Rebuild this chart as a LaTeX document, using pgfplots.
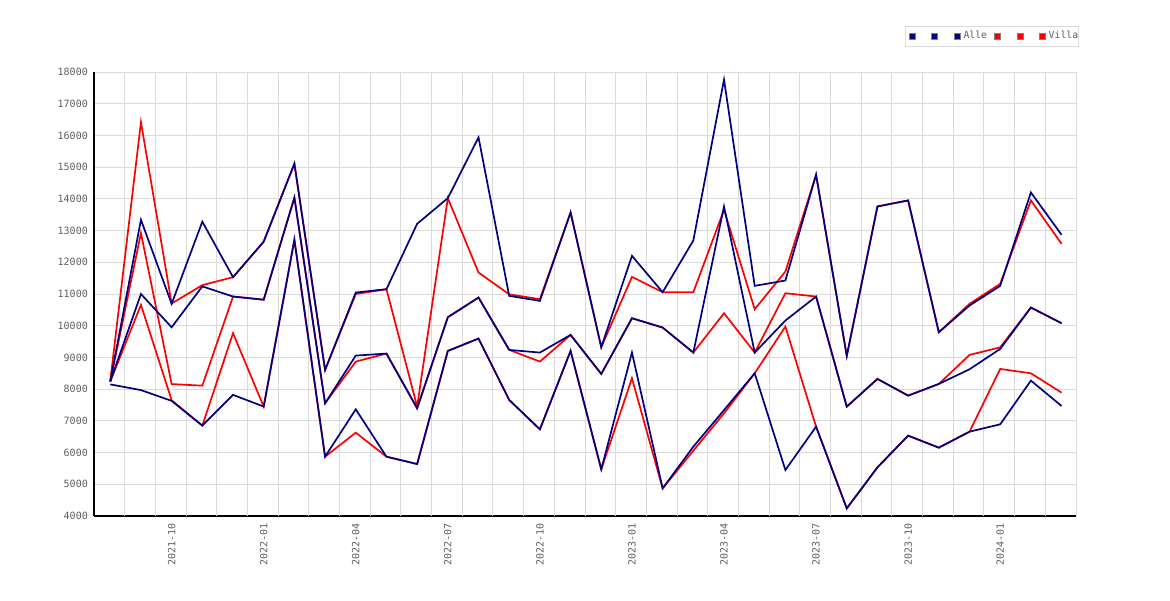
\documentclass[border=0pt]{standalone}
\usepackage{pgfplots}
\usepackage{pgfplotstable}
\pgfplotsset{compat=1.18}
\usepackage{fontspec}
\setmainfont{DejaVu Sans Mono}
\definecolor{navy}{RGB}{0,0,128}
\definecolor{lbl}{RGB}{96,96,96}
\definecolor{gridc}{RGB}{218,218,218}

\pgfplotstableread{
i B1 B2 B3
0 8240 8240 8150
1 13340 11000 7970
2 10690 9950 7630
3 13280 11240 6850
4 11530 10920 7820
5 12650 10820 7450
6 15110 14040 12710
7 8606 7554 5870
8 11046 9058 7364
9 11151 9121 5870
10 13213 7396 5639
11 14023 10268 9205
12 15938 10888 9595
13 10941 9237 7659
14 10783 9153 6733
15 13571 9710 9205
16 9321 8479 5471
17 12203 10236 9153
18 11057 9942 4871
19 12687 9153 6186
20 17758 13760 7340
21 11257 9153 8500
22 11425 10163 5450
23 14760 10920 6817
24 9047 7448 4240
25 13760 8322 5534
26 13950 7796 6533
27 9794 8164 6155
28 10636 8627 6659
29 11257 9268 6891
30 14202 10573 8269
31 12866 10078 7469
}\alle

\pgfplotstableread{
i R1 R2 R3
0 8260 8240 8240
1 16420 12920 10660
2 10700 8160 7650
3 11280 8110 6850
4 11530 10920 9765
5 12650 10820 7450
6 15110 14040 12710
7 8606 7554 5870
8 11000 8869 6628
9 11151 9121 5870
10 7450 7396 5639
11 14023 10268 9205
12 11677 10888 9595
13 10990 9237 7659
14 10836 8869 6733
15 13571 9710 9205
16 9321 8479 5471
17 11541 10236 8343
18 11057 9942 4871
19 11057 9153 6060
20 13655 10394 7238
21 10520 9153 8500
22 11709 11025 9973
23 14760 10920 6817
24 9047 7448 4240
25 13760 8322 5534
26 13950 7796 6533
27 9794 8164 6155
28 10690 9079 6659
29 11320 9320 8637
30 13950 10573 8500
31 12582 10078 7890
}\villa

\begin{document}
\begin{tikzpicture}
\path[use as bounding box, fill=white] (0pt,0pt) rectangle (1170pt,600pt);
\begin{axis}[
  at={(94pt,84pt)}, anchor=south west,
  scale only axis, width=982pt, height=444pt,
  xmin=-0.53, xmax=31.47, ymin=4000, ymax=18000,
  axis x line*=bottom, axis y line*=left,
  axis line style={-, black, line width=1.3pt},
  xtick={2,5,8,11,14,17,20,23,26,29},
  xticklabels={2021-10,2022-01,2022-04,2022-07,2022-10,2023-01,2023-04,2023-07,2023-10,2024-01},
  ytick={4000,5000,...,18000},
  scaled y ticks=false,
  ymajorgrids,
  grid style={gridc, line width=0.9pt},
  extra x ticks={0.47,1.47,2.47,3.47,4.47,5.47,6.47,7.47,8.47,9.47,10.47,11.47,12.47,13.47,14.47,15.47,16.47,17.47,18.47,19.47,20.47,21.47,22.47,23.47,24.47,25.47,26.47,27.47,28.47,29.47,30.47,31.47},
  extra x tick labels={},
  extra x tick style={grid=major, major tick length=0pt, tick style={draw=none}},
  major tick length=0pt,
  tick style={draw=none},
  tick label style={font=\fontsize{10}{12}\selectfont, text=lbl, inner sep=0pt},
  yticklabel style={xshift=-6pt},
  xticklabel style={yshift=-7pt, rotate=90, anchor=east},
  /pgf/number format/.cd, 1000 sep={}, assume math mode=true, /pgfplots/.cd,
  legend columns=6,
  legend style={at={(axis description cs:0.8262,1.1036)}, anchor=north west,
    draw=gridc, line width=0.8pt, fill=white,
    inner xsep=3.4pt, inner ysep=5.2pt,
    font=\fontsize{9.8}{11}\selectfont, text=lbl,
    nodes={inner sep=0pt, text height=7.2pt, text depth=2.2pt},
    /tikz/every odd column/.append style={column sep=3.2pt},
    /tikz/every even column/.append style={column sep=7.2pt}},
]
\addplot[red, line width=1.7pt, forget plot] table[x=i, y=R1] {\villa};
\addplot[red, line width=1.7pt, forget plot] table[x=i, y=R2] {\villa};
\addplot[red, line width=1.7pt, forget plot] table[x=i, y=R3] {\villa};
\addplot[navy, line width=1.7pt, forget plot] table[x=i, y=B1] {\alle};
\addplot[navy, line width=1.7pt, forget plot] table[x=i, y=B2] {\alle};
\addplot[navy, line width=1.7pt, forget plot] table[x=i, y=B3] {\alle};
\addlegendimage{legend image code/.code={\draw[fill=navy, draw=gray, line width=0.6pt] (0pt,-3pt) rectangle (6pt,3pt);}}
\addlegendentry{\hspace*{5.3pt}}
\addlegendimage{legend image code/.code={\draw[fill=navy, draw=gray, line width=0.6pt] (0pt,-3pt) rectangle (6pt,3pt);}}
\addlegendentry{\hspace*{5.3pt}}
\addlegendimage{legend image code/.code={\draw[fill=navy, draw=gray, line width=0.6pt] (0pt,-3pt) rectangle (6pt,3pt);}}
\addlegendentry{Alle}
\addlegendimage{legend image code/.code={\draw[fill=red, draw=gray, line width=0.6pt] (0pt,-3pt) rectangle (6pt,3pt);}}
\addlegendentry{\hspace*{5.3pt}}
\addlegendimage{legend image code/.code={\draw[fill=red, draw=gray, line width=0.6pt] (0pt,-3pt) rectangle (6pt,3pt);}}
\addlegendentry{\hspace*{5.3pt}}
\addlegendimage{legend image code/.code={\draw[fill=red, draw=gray, line width=0.6pt] (0pt,-3pt) rectangle (6pt,3pt);}}
\addlegendentry{Villa\hspace*{-3pt}}
\end{axis}
\end{tikzpicture}
\end{document}
